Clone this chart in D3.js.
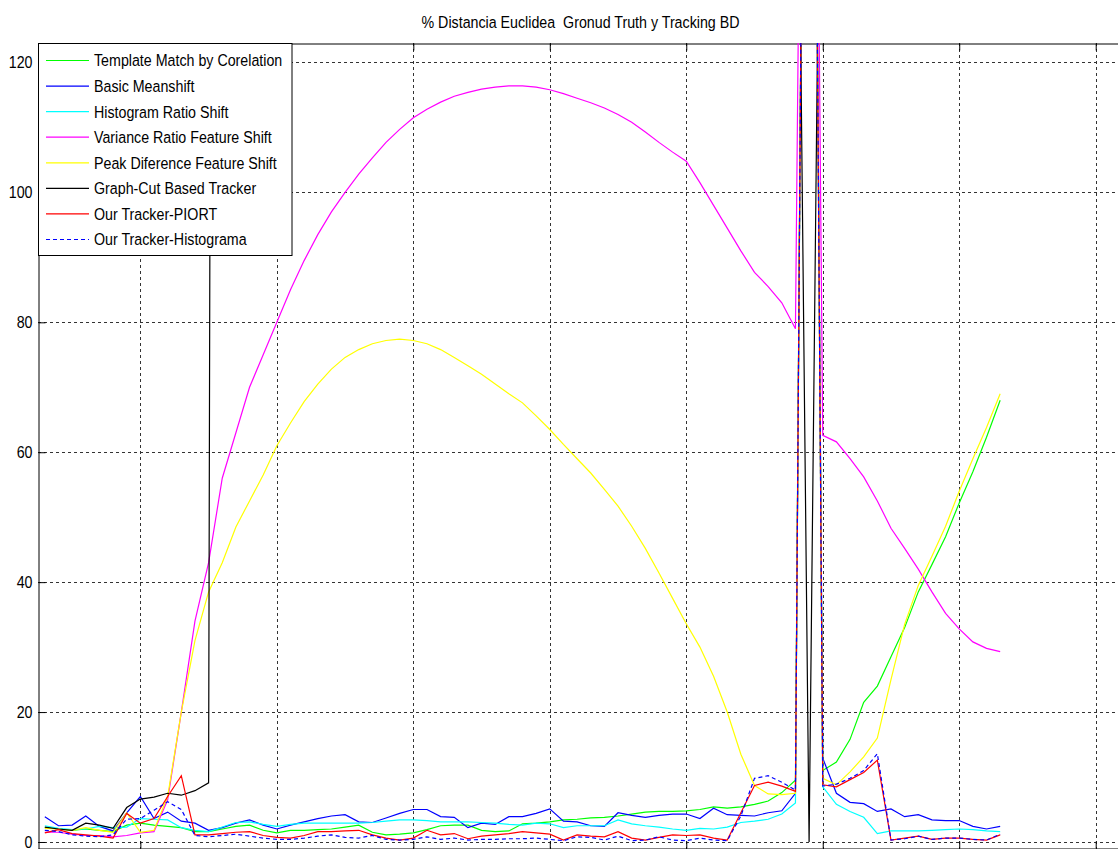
<!DOCTYPE html>
<html>
<head>
<meta charset="utf-8">
<script src="https://cdn.jsdelivr.net/npm/d3@7"></script>
<style>
  body { margin: 0; background: #fff; }
  text { font-family: "Liberation Sans", Arial, sans-serif; font-size: 14.25px; fill: #000; }
</style>
</head>
<body>
<div id="chart"></div>
<script>
// frame numbers (x axis)
var frames = [3, 4, 5, 6, 7, 8, 9, 10, 11, 12, 13, 14, 15, 16, 17, 18, 19, 20, 21, 22,
    23, 24, 25, 26, 27, 28, 29, 30, 31, 32, 33, 34, 35, 36, 37, 38, 39, 40, 41, 42,
    43, 44, 45, 46, 47, 48, 49, 50, 51, 52, 53, 54, 55, 56, 57, 58, 59, 60, 61, 62,
    63, 64, 65, 66, 67, 68, 69, 70, 71, 72, 73];

var templateMatch = [2.2, 2.0, 1.8, 2.0, 1.8, 1.6, 2.6, 2.9, 2.6, 2.4,
    2.2, 1.6, 1.6, 2.0, 2.4, 2.6, 1.8, 1.4, 1.8, 1.8,
    1.9, 2.0, 2.3, 2.6, 1.5, 1.1, 1.2, 1.4, 1.9, 2.5,
    2.6, 2.6, 1.8, 1.6, 1.7, 2.8, 2.9, 3.1, 3.4, 3.5,
    3.7, 3.8, 4.0, 4.3, 4.6, 4.7, 4.7, 4.8, 5.0, 5.4,
    5.2, 5.4, 5.8, 6.3, 7.6, 9.5, 300, 11, 12.3, 15.8,
    21.5, 24, 28.5, 33, 38.5, 42.7, 47, 52.2, 57, 62.3, 68];

var basicMeanshift = [3.9, 2.5, 2.6, 4.0, 2.4, 1.7, 4.5, 7.0, 3.6, 4.6,
    3.2, 2.9, 1.8, 2.2, 2.9, 3.4, 2.6, 2.0, 2.6, 3.1,
    3.6, 4.0, 4.2, 3.1, 3.0, 3.7, 4.4, 5.0, 5.0, 3.9,
    3.8, 2.2, 2.9, 2.7, 3.9, 3.9, 4.4, 5.1, 3.2, 3.1,
    2.5, 2.4, 4.5, 4.1, 3.8, 4.1, 4.3, 4.3, 3.6, 5.2,
    4.2, 4.1, 4.0, 4.5, 4.8, 7.5, 300, 12.9, 7.5, 6.1,
    5.9, 4.7, 5.1, 3.9, 4.2, 3.4, 3.3, 3.3, 2.4, 2.0, 2.4];

var histRatio = [2.5, 2.1, 1.9, 2.0, 2.4, 2.2, 2.3, 3.6, 3.5, 3.4,
    2.2, 1.8, 1.6, 2.3, 3.0, 3.1, 2.7, 2.4, 2.7, 2.9,
    2.9, 2.9, 2.9, 2.9, 3.0, 3.2, 3.4, 3.4, 3.3, 3.1,
    3.1, 3.1, 3.0, 2.9, 2.7, 2.6, 2.9, 2.8, 2.2, 2.5,
    2.5, 2.5, 3.4, 2.8, 2.5, 2.3, 2.0, 1.8, 2.1, 2.0,
    2.3, 3.0, 3.2, 3.5, 4.3, 6.0, 300, 8.5, 5.8, 4.7,
    3.8, 1.3, 1.7, 1.7, 1.7, 1.8, 1.9, 2.0, 1.9, 1.7, 1.6];

var varianceRatio = [1.5, 1.5, 1.2, 1.0, 1.0, 0.8, 1.0, 1.4, 1.6, 6.5,
    20, 34, 43, 56, 63, 70, 75, 80, 85, 89.5,
    93.5, 97, 100, 102.8, 105.3, 107.7, 109.7, 111.5, 112.8, 113.9,
    114.8, 115.4, 115.9, 116.2, 116.4, 116.4, 116.2, 115.8, 115.2, 114.5,
    113.8, 113.0, 112.0, 110.8, 109.3, 107.7, 106.2, 104.8, 101.5, 98,
    94.5, 91, 87.7, 85.5, 83, 79, 300, 62.6, 61.6, 59.0,
    56.2, 52.5, 48.3, 45.2, 42.0, 38.5, 35.2, 32.8, 30.8, 29.8, 29.3];

var peakDiff = [2.1, 2.0, 1.8, 2.2, 1.8, 1.5, 4.5, 1.5, 1.8, 7,
    20, 31, 38.5, 43, 48.5, 52.5, 56.5, 61, 64.5, 67.8,
    70.5, 72.8, 74.6, 75.8, 76.7, 77.2, 77.4, 77.2, 76.7, 75.8,
    74.6, 73.3, 72, 70.5, 69, 67.6, 65.6, 63.5, 61.2, 59,
    56.8, 54.3, 51.7, 48.6, 45.2, 41.4, 37.5, 33.6, 30, 25.5,
    20, 13.5, 8.7, 7.4, 7.3, 7.5, 300, 9.8, 8.8, 10.8,
    13.1, 16, 25, 33.5, 39.5, 44, 48.6, 54, 59, 63.8, 69];

var graphCut = [2.3, 2.0, 1.8, 2.9, 2.6, 2.1, 5.3, 6.6, 6.9, 7.5,
    7.2, 7.9, 9.1, 900, 900, 900, 900, 900, 900, 900,
    900, 900, 900, 900, 900, 900, 900, 900, 900, 900,
    900, 900, 900, 900, 900, 900, 900, 900, 900, 900,
    900, 900, 900, 900, 900, 900, 900, 900, 900, 900,
    900, 900, 900, 900, 900, 200, 0, 200, 900, 900,
    900, 900, 900, 900, 900, 900, 900, 900, 900, 900, 900];

var piort = [1.4, 1.9, 1.3, 1.1, 0.9, 0.6, 4.4, 2.9, 3.6, 7.0,
    10.2, 1.1, 1.1, 1.3, 1.5, 1.6, 1.0, 0.7, 0.6, 1.0,
    1.6, 1.6, 1.7, 1.8, 1.1, 0.6, 0.3, 0.6, 1.8, 1.1,
    1.3, 0.5, 0.9, 1.1, 1.3, 1.6, 1.4, 1.2, 0.3, 1.1,
    0.9, 0.8, 1.6, 0.6, 0.3, 0.7, 1.1, 1.0, 1.1, 0.6,
    0.3, 4.5, 8.7, 9.2, 8.6, 7.8, 300, 8.8, 8.5, 9.6,
    10.7, 12.6, 0.3, 0.6, 0.9, 0.4, 0.6, 0.6, 0.4, 0.3, 1.1];

var histograma = [1.8, 1.6, 1.1, 0.9, 0.8, 1.1, 3.5, 3.6, 4.9, 6.2,
    5.0, 1.0, 0.8, 1.0, 1.2, 0.9, 0.6, 0.4, 0.4, 0.6,
    0.9, 1.1, 0.7, 0.6, 1.0, 0.4, 0.3, 0.4, 0.8, 0.4,
    0.6, 0.3, 0.4, 0.4, 0.5, 0.5, 0.6, 0.4, 0.2, 0.8,
    0.7, 0.3, 0.9, 0.2, 0.3, 0.8, 0.3, 0.2, 0.6, 0.3,
    0.2, 4.0, 9.8, 10.2, 9.2, 8.0, 300, 8.6, 8.9, 9.8,
    11.0, 13.6, 0.3, 0.5, 0.9, 0.4, 0.6, 0.6, 0.4, 0.3, 1.2];

var seriesNames = ["Template Match by Corelation", "Basic Meanshift", "Histogram Ratio Shift",
    "Variance Ratio Feature Shift", "Peak Diference Feature Shift", "Graph-Cut Based Tracker",
    "Our Tracker-PIORT", "Our Tracker-Histograma"];
var seriesValues = [templateMatch, basicMeanshift, histRatio, varianceRatio, peakDiff, graphCut, piort, histograma];
var seriesColors = ["#00ff00", "#0000ff", "#00ffff", "#ff00ff", "#ffff00", "#000000", "#ff0000", "#0000ff"];
var seriesDash = ["none", "none", "none", "none", "none", "none", "none", "4,3"];

var xTicks = [10, 20, 30, 40, 50, 60, 70, 80];
var yTicks = [0, 20, 40, 60, 80, 100, 120];

var titleText = "% Distancia Euclidea  Gronud Truth y Tracking BD";

var width = 1118;
var height = 849;
// plot box (right and bottom edges fall just outside the picture)
var boxLeft = 38, boxRight = 1123, boxTop = 43, boxBottom = 849;

var x = d3.scaleLinear().domain([2.5, 82]).range([boxLeft, boxRight]);
var y = d3.scaleLinear().domain([-1.08, 123]).range([boxBottom, boxTop]);

var svg = d3.select("#chart").append("svg")
    .attr("width", width)
    .attr("height", height);

svg.append("rect").attr("width", width).attr("height", height).attr("fill", "#fff");

svg.append("clipPath").attr("id", "plotclip")
    .append("rect")
    .attr("x", boxLeft).attr("y", boxTop)
    .attr("width", boxRight - boxLeft).attr("height", boxBottom - boxTop);

// grid
var grid = svg.append("g").attr("stroke", "#333").attr("stroke-width", 1).attr("stroke-dasharray", "3,3");
grid.selectAll(".hgrid").data(yTicks).enter().append("line")
    .attr("x1", boxLeft).attr("x2", boxRight)
    .attr("y1", function (d) { return Math.round(y(d)) + 0.5; })
    .attr("y2", function (d) { return Math.round(y(d)) + 0.5; });
grid.selectAll(".vgrid").data(xTicks).enter().append("line")
    .attr("y1", boxTop).attr("y2", boxBottom)
    .attr("x1", function (d) { return Math.round(x(d)) + 0.5; })
    .attr("x2", function (d) { return Math.round(x(d)) + 0.5; });

// y axis, ticks pointing inward
var yAxis = svg.append("g")
    .attr("transform", "translate(" + (boxLeft + 0.5) + ",0)")
    .call(d3.axisLeft(y).tickValues(yTicks).tickSizeInner(-7).tickSizeOuter(0).tickPadding(6));
yAxis.select(".domain").attr("stroke", "#000");
yAxis.selectAll(".tick line").attr("stroke", "#000");
yAxis.selectAll(".tick text")
    .attr("font-family", null).attr("font-size", null)
    .attr("transform", "scale(1,1.2)");

// top border with ticks
var topAxis = svg.append("g")
    .attr("transform", "translate(0," + (boxTop + 0.5) + ")")
    .call(d3.axisTop(x).tickValues(xTicks).tickSizeInner(-7).tickSizeOuter(0).tickFormat(""));
topAxis.select(".domain").attr("stroke", "#000");
topAxis.selectAll(".tick line").attr("stroke", "#000");

// bottom ticks (axis line is at the picture edge)
var bottomAxis = svg.append("g")
    .attr("transform", "translate(0," + (boxBottom - 0.5) + ")")
    .call(d3.axisBottom(x).tickValues(xTicks).tickSizeInner(-7).tickSizeOuter(0).tickFormat(""));
bottomAxis.select(".domain").attr("stroke", "#000");
bottomAxis.selectAll(".tick line").attr("stroke", "#000");

// data lines
var line = d3.line()
    .x(function (d) { return x(d[0]); })
    .y(function (d) { return y(d[1]); });

var plot = svg.append("g").attr("clip-path", "url(#plotclip)");
seriesValues.forEach(function (vals, i) {
    var pts = frames.map(function (f, j) { return [f, vals[j]]; });
    plot.append("path")
        .datum(pts)
        .attr("d", line)
        .attr("fill", "none")
        .attr("stroke", seriesColors[i])
        .attr("stroke-width", 1.2)
        .attr("stroke-dasharray", seriesDash[i]);
});

// title
svg.append("g")
    .attr("transform", "translate(580.5,28) scale(1,1.2)")
    .append("text")
    .attr("text-anchor", "middle")
    .style("white-space", "pre")
    .text(titleText);

// legend
var legend = svg.append("g");
legend.append("rect")
    .attr("x", boxLeft + 0.5).attr("y", boxTop + 0.5)
    .attr("width", 253.5).attr("height", 212)
    .attr("fill", "#fff").attr("stroke", "#000");

var rowY = d3.scaleLinear().domain([0, 7]).range([60.5, 239.5]);
var items = legend.selectAll(".item").data(seriesNames).enter().append("g");
items.append("line")
    .attr("x1", 46).attr("x2", 89)
    .attr("y1", function (d, i) { return rowY(i); })
    .attr("y2", function (d, i) { return rowY(i); })
    .attr("stroke", function (d, i) { return seriesColors[i]; })
    .attr("stroke-width", 1.2)
    .attr("stroke-dasharray", function (d, i) { return seriesDash[i]; });
items.append("g")
    .attr("transform", function (d, i) { return "translate(94," + rowY(i) + ") scale(1,1.2)"; })
    .append("text")
    .attr("dy", "0.35em")
    .text(function (d) { return d; });
</script>
</body>
</html>
